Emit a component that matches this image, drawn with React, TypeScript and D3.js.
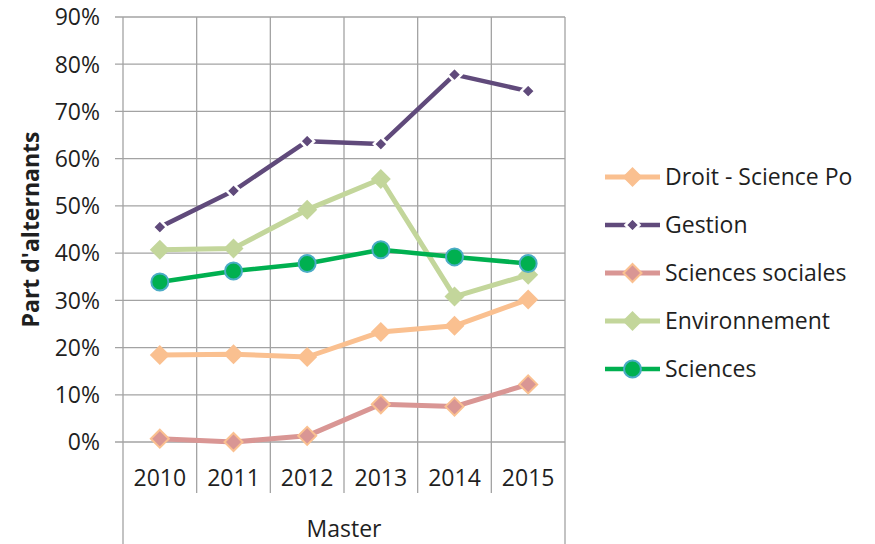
import React from "react";
import * as d3 from "d3";

const years = ["2010", "2011", "2012", "2013", "2014", "2015"];
const droit = [0.184, 0.186, 0.18, 0.233, 0.246, 0.302];
const gestion = [0.455, 0.532, 0.637, 0.631, 0.778, 0.743];
const sociales = [0.007, 0.0, 0.013, 0.08, 0.075, 0.122];
const environnement = [0.407, 0.41, 0.492, 0.557, 0.308, 0.354];
const sciences = [0.339, 0.362, 0.378, 0.407, 0.392, 0.378];
const yTicks = [0, 0.1, 0.2, 0.3, 0.4, 0.5, 0.6, 0.7, 0.8, 0.9];
const outerCategory = "Master";
const yTitle = "Part d'alternants";

type Series = {
  name: string;
  values: number[];
  line: string;
  lineWidth: number;
  marker: "diamond" | "circle";
  size: number;
  fill: string;
  stroke: string;
  strokeWidth: number;
};

const series: Series[] = [
  { name: "Droit - Science Po", values: droit, line: "#FAC090", lineWidth: 5, marker: "diamond", size: 10, fill: "#FAC090", stroke: "#FAC090", strokeWidth: 0 },
  { name: "Gestion", values: gestion, line: "#604A7B", lineWidth: 4.5, marker: "diamond", size: 7, fill: "#604A7B", stroke: "#ffffff", strokeWidth: 2.5 },
  { name: "Sciences sociales", values: sociales, line: "#D99694", lineWidth: 5, marker: "diamond", size: 9, fill: "#D99694", stroke: "#FAC090", strokeWidth: 2 },
  { name: "Environnement", values: environnement, line: "#C3D69B", lineWidth: 5, marker: "diamond", size: 10, fill: "#C3D69B", stroke: "#C3D69B", strokeWidth: 0 },
  { name: "Sciences", values: sciences, line: "#00B050", lineWidth: 4.5, marker: "circle", size: 8.5, fill: "#00B050", stroke: "#4BACC6", strokeWidth: 2 },
];

const FONT = "'Open Sans', sans-serif";
const TEXT = "#1f1f1f";
const GRID = "#a3a3a3";

function Marker({ s, x, y }: { s: Series; x: number; y: number }) {
  if (s.marker === "circle") {
    return <circle cx={x} cy={y} r={s.size} fill={s.fill} stroke={s.stroke} strokeWidth={s.strokeWidth} />;
  }
  const h = s.size;
  const d = `M${x},${y - h}L${x + h},${y}L${x},${y + h}L${x - h},${y}Z`;
  return <path d={d} fill={s.fill} stroke={s.strokeWidth ? s.stroke : "none"} strokeWidth={s.strokeWidth} strokeLinejoin="miter" />;
}

export default function App() {
  const W = 875;
  const H = 544;
  const left = 123;
  const right = 565;
  const top = 17;
  const bottom = 442;

  const x = d3.scaleBand<string>().domain(years).range([left, right]).padding(0);
  const y = d3.scaleLinear().domain([0, 0.9]).range([bottom, top]);
  const cx = (yr: string) => (x(yr) as number) + x.bandwidth() / 2;

  const line = d3
    .line<number>()
    .x((_, i) => cx(years[i]))
    .y((v) => y(v));

  const legendX1 = 605;
  const legendX2 = 660;
  const legendYs = [177, 225, 273, 321, 369];

  return (
    <div style={{ position: "absolute", left: 0, top: 0 }}>
      <svg width={W} height={H} style={{ display: "block", background: "#fff" }}>
        {/* horizontal gridlines + ticks */}
        {yTicks.map((t) => (
          <g key={t}>
            <line x1={left - 8} x2={right} y1={y(t)} y2={y(t)} stroke={GRID} strokeWidth={1.3} />
            <text
              x={100}
              y={y(t)}
              dy="0.36em"
              textAnchor="end"
              fontFamily={FONT}
              fontSize={23}
              fill={TEXT}
            >
              {d3.format(".0%")(t)}
            </text>
          </g>
        ))}
        {/* vertical category separators */}
        {years.slice(1).map((yr) => (
          <line key={yr} x1={x(yr)} x2={x(yr)} y1={top} y2={493} stroke={GRID} strokeWidth={1.3} />
        ))}
        <line x1={left} x2={left} y1={top} y2={H} stroke={GRID} strokeWidth={1.3} />
        <line x1={right} x2={right} y1={top} y2={H} stroke={GRID} strokeWidth={1.3} />
        {/* category labels */}
        {years.map((yr) => (
          <text key={yr} x={cx(yr)} y={486} textAnchor="middle" fontFamily={FONT} fontSize={23} fill={TEXT}>
            {yr}
          </text>
        ))}
        <text x={(left + right) / 2} y={537} textAnchor="middle" fontFamily={FONT} fontSize={23} fill={TEXT}>
          {outerCategory}
        </text>
        {/* y title */}
        <text
          transform={`translate(39,${(top + bottom) / 2}) rotate(-90)`}
          textAnchor="middle"
          fontFamily={FONT}
          fontWeight="bold"
          fontSize={23}
          fill={TEXT}
        >
          {yTitle}
        </text>
        {/* series */}
        {series.map((s) => (
          <g key={s.name}>
            <path d={line(s.values) || ""} fill="none" stroke={s.line} strokeWidth={s.lineWidth} strokeLinejoin="round" />
            {s.values.map((v, i) => (
              <Marker key={i} s={s} x={cx(years[i])} y={y(v)} />
            ))}
          </g>
        ))}
        {/* legend */}
        {series.map((s, i) => (
          <g key={s.name}>
            <line x1={legendX1} x2={legendX2} y1={legendYs[i]} y2={legendYs[i]} stroke={s.line} strokeWidth={s.lineWidth} />
            <Marker s={s} x={(legendX1 + legendX2) / 2} y={legendYs[i]} />
            <text x={665} y={legendYs[i]} dy="0.36em" fontFamily={FONT} fontSize={23} fill={TEXT}>
              {s.name}
            </text>
          </g>
        ))}
      </svg>
    </div>
  );
}
